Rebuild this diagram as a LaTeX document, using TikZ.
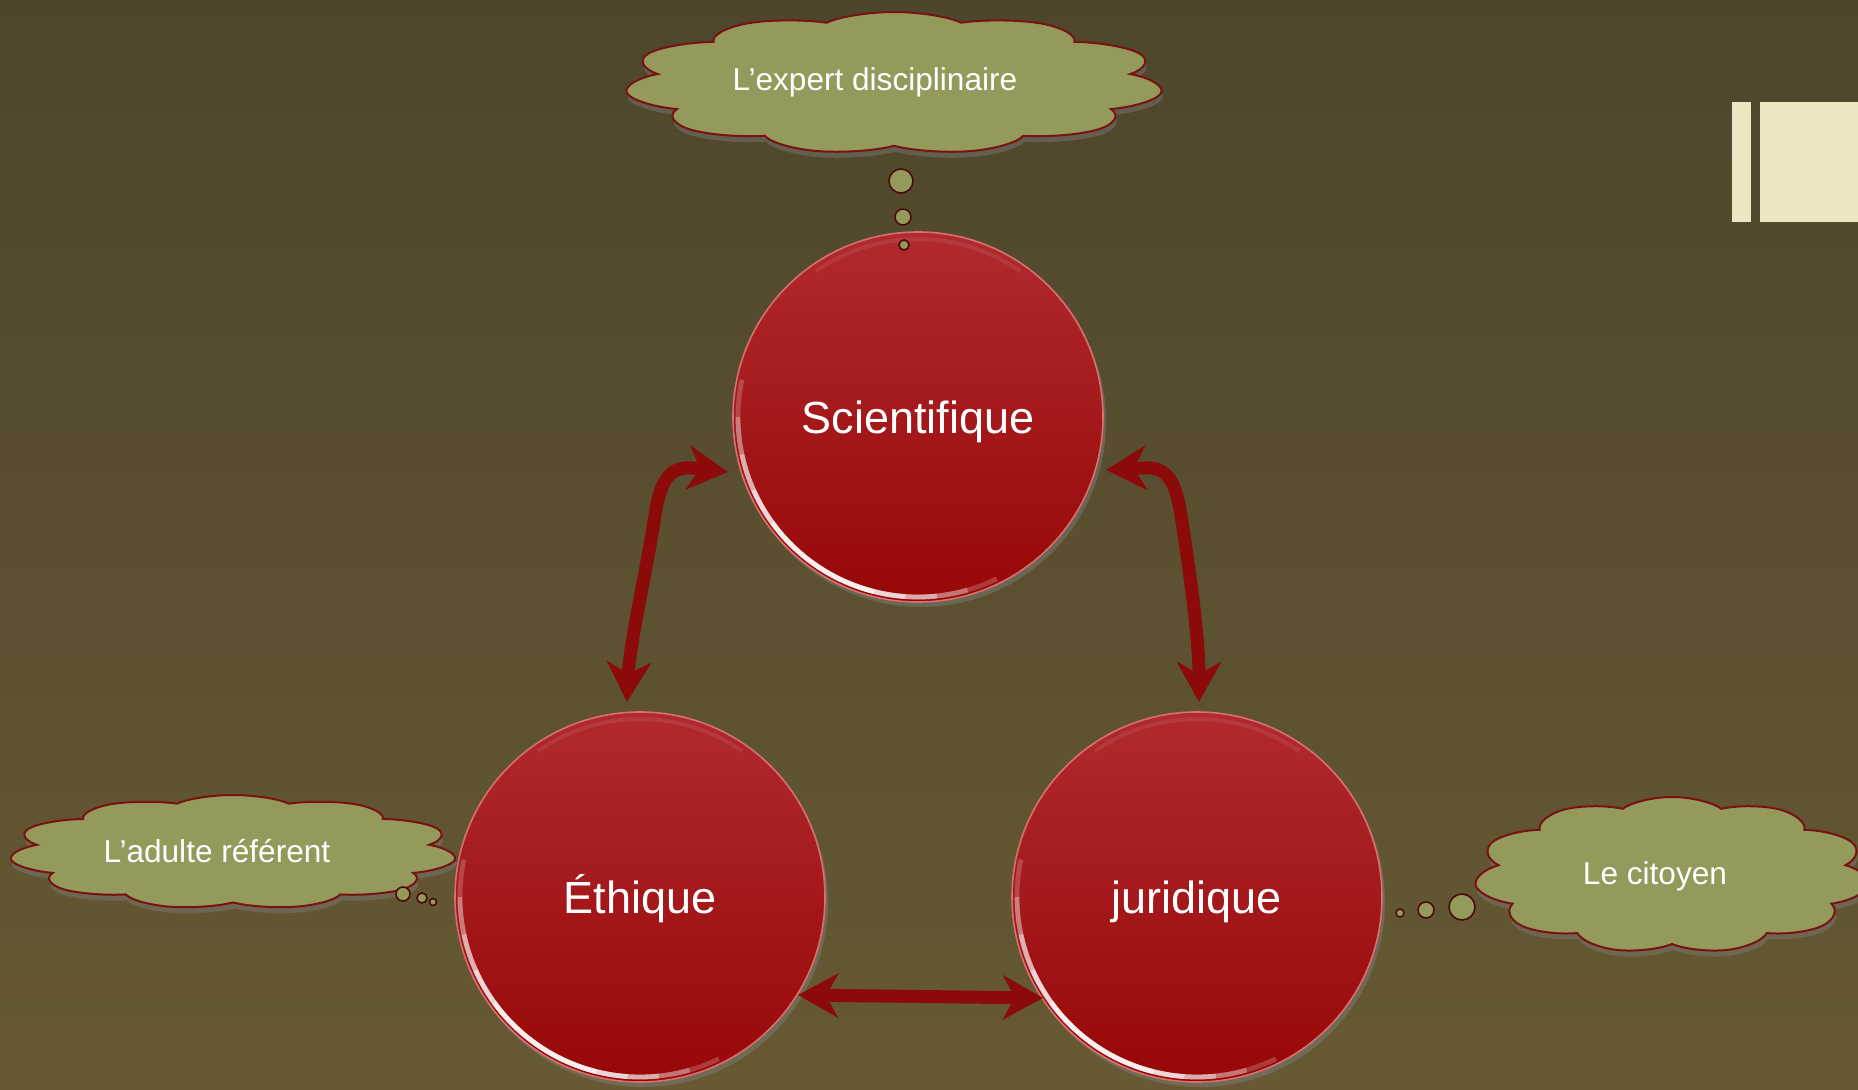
\documentclass[tikz,border=0pt]{standalone}
\usepackage{fontspec}
\setmainfont{Liberation Sans}
\usetikzlibrary{positioning, calc, shapes.symbols, shadows, arrows.meta}

\definecolor{bgtop}{HTML}{4E462C}
\definecolor{bgbottom}{HTML}{665933}
\definecolor{balltop}{HTML}{B02A2E}
\definecolor{ballred}{HTML}{980707}
\definecolor{ballrim}{HTML}{D87070}
\definecolor{cloudgreen}{HTML}{949A5B}
\definecolor{cloudrim}{HTML}{7A1212}
\definecolor{arrowred}{HTML}{8C0A0A}
\definecolor{cream}{HTML}{EEE5C3}

\begin{document}
\begin{tikzpicture}[x=0.5pt, y=0.5pt]
\tikzset{
    ball/.style={
        circle,
        minimum size=185pt,
        inner sep=0pt,
        top color=balltop,
        bottom color=ballred,
        draw=ballrim,
        line width=0.8pt,
        text=white,
        font=\fontsize{22.5pt}{27pt}\selectfont,
        text height=16.1pt,
        text depth=0pt,
        drop shadow={shadow xshift=1.5pt, shadow yshift=-2.5pt, opacity=.45},
    },
    thought/.style={
        cloud,
        cloud puffs=11,
        cloud puff arc=125,
        aspect=1,
        fill=cloudgreen,
        draw=cloudrim,
        line width=1pt,
        inner sep=0pt,
        transform shape,
        drop shadow={shadow xshift=.6pt, shadow yshift=-3pt, opacity=.4},
    },
    bubble/.style={
        circle,
        fill=cloudgreen,
        draw=cloudrim!60!black,
        line width=0.8pt,
        inner sep=0pt,
    },
    thoughttext/.style={
        text=white,
        font=\fontsize{15.8pt}{19pt}\selectfont,
        text height=11.3pt,
        text depth=0pt,
    },
    link/.style={
        draw=arrowred,
        line width=6.5pt,
        <->,
    },
    >={Stealth[length=20pt, width=22pt, inset=6pt]},
}

    \useasboundingbox (0,0) rectangle (1858,1089);
    \clip (0,0) rectangle (1858,1089);
    \shade[top color=bgtop, bottom color=bgbottom] (0,0) rectangle (1858,1089);

    % corner marks
    \fill[cream] (1732,867) rectangle (1751,987);
    \fill[cream] (1760,867) rectangle (1858,987);

    % the three circles
    \node[ball] (sci) at (918,672) {Scientifique};
    \node[ball] (eth) at ($(sci)+(-278,-480)$) {Éthique};
    \node[ball] (jur) at ($(sci)+(279,-480)$) {juridique};

    % shine on the rims
    \foreach \b in {sci,eth,jur} {
        \foreach \s/\e/\o in {168/296/.2, 180/286/.3, 192/276/.4, 204/266/.5, 216/256/.6}
            \draw[white, line width=2.4pt, opacity=\o] ($(\b.center)+(\s:180)$) arc[start angle=\s, end angle=\e, radius=180];
        \draw[white, line width=2pt, opacity=.08] ($(\b.center)+(55:178)$) arc[start angle=55, end angle=125, radius=178];
    }

    % arrows
    \draw[link] ($(sci.center)+(-190,-55)$) -- ($(sci.center)+(-226,-51)$)
        .. controls ($(sci.center)+(-251,-49)$) and ($(sci.center)+(-258,-68)$) .. ($(sci.center)+(-263,-98)$)
        .. controls ($(eth.center)+(5,317)$) and ($(eth.center)+(-10,257)$) .. ($(eth.center)+(-13,195)$);
    \draw[link] ($(sci.center)+(188,-53)$) -- ($(sci.center)+(226,-51)$)
        .. controls ($(sci.center)+(251,-49)$) and ($(sci.center)+(258,-68)$) .. ($(sci.center)+(263,-98)$)
        .. controls ($(jur.center)+(-6,317)$) and ($(jur.center)+(2,257)$) .. ($(jur.center)+(2,195)$);
    \draw[link] ($(eth.center)+(158,-98)$) -- ($(jur.center)+(-154,-101)$);

    % thought clouds
    \node[thought, minimum size=71pt, xscale=3.8] (expert) at (894,1006) {};
    \node[thoughttext] (expertlbl) at ($(expert)+(-19,4)$) {L’expert disciplinaire};
    \foreach \x/\y/\d [count=\i] in {901/908/12, 903/872/8, 904/844/5}
        \node[bubble, minimum size=\d pt] (expertb\i) at (\x,\y) {};

    \node[thought, minimum size=57pt, xscale=3.93] (adulte) at (233,237) {};
    \node[thoughttext] (adultelbl) at ($(adulte)+(-16,1)$) {L’adulte référent};
    \foreach \x/\y/\d [count=\i] in {403/195/7, 422/191/5, 433/187/3.5}
        \node[bubble, minimum size=\d pt] (adulteb\i) at (\x,\y) {};

    \node[thought, minimum size=78pt, xscale=2.54] (citoyen) at (1672,214) {};
    \node[thoughttext] (citoyenlbl) at ($(citoyen)+(-17,2)$) {Le citoyen};
    \foreach \x/\y/\d [count=\i] in {1462/182/13, 1426/179/8, 1400/176/4}
        \node[bubble, minimum size=\d pt] (citoyenb\i) at (\x,\y) {};

\end{tikzpicture}
\end{document}
